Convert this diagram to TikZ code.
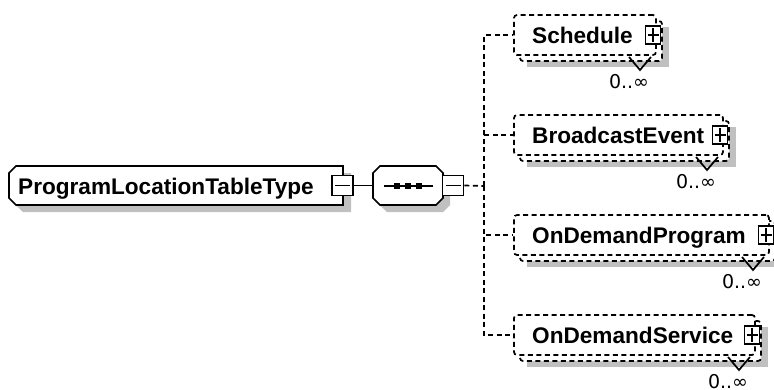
\documentclass[tikz,border=0pt]{standalone}
\usepackage{fontspec}
\setmainfont{DejaVu Sans}
\newfontfamily\namefont{Liberation Sans}
\definecolor{shadowgray}{RGB}{192,192,192}
\tikzset{
  ln/.style={line width=1.7pt},
  dsh/.style={line width=1.7pt, dash pattern=on 5pt off 3.5pt},
  nametext/.style={font=\namefont\bfseries\fontsize{22.6}{23}\selectfont, inner sep=0pt, anchor=base west},
  occtext/.style={font=\fontsize{19}{19}\selectfont, inner sep=0pt},
  minusbox/.style={draw, ln, fill=white, minimum width=21pt, minimum height=20pt, inner sep=0pt,
    path picture={\draw[ln] ([xshift=3pt]path picture bounding box.west) -- ([xshift=-3pt]path picture bounding box.east);}},
  plusbox/.style={draw, ln, fill=white, minimum width=15pt, minimum height=18pt, inner sep=0pt,
    path picture={\draw[ln] ([xshift=2pt]path picture bounding box.west) -- ([xshift=-2pt]path picture bounding box.east);
                  \draw[ln] ([yshift=-2pt]path picture bounding box.north) -- ([yshift=2pt]path picture bounding box.south);}},
  frontbox/.style={dsh, draw, fill=white, rounded corners=3pt, inner sep=0pt},
  dot/.style={fill=black, minimum size=6pt, inner sep=0pt},
}
\begin{document}
\begin{tikzpicture}[x=1pt, y=-1pt]
\useasboundingbox (0,0) rectangle (774,389);
\clip (0,0) rectangle (774,389);
\fill[white] (0,0) rectangle (774,389);

% root element
\fill[shadowgray] (23,173) -- (351,173) -- (351,212) -- (23,212) -- (16,205) -- (16,180) -- cycle;
\draw[ln, fill=white] (16,166) -- (343,166) -- (343,205) -- (16,205) -- (9,198) -- (9,173) -- cycle;
\node[nametext] (roottext) at (18,194) {ProgramLocationTableType};
\node[minusbox] (rootminus) at (342.5,185.5) {};

% sequence compositor
\fill[shadowgray] (387,173) -- (443,173) -- (450,180) -- (450,205) -- (443,212) -- (387,212) -- (380,205) -- (380,180) -- cycle;
\draw[ln, fill=white] (380,166) -- (436,166) -- (443,173) -- (443,198) -- (436,205) -- (380,205) -- (373,198) -- (373,173) -- cycle;
\node[inner sep=0pt, minimum width=70pt, minimum height=39pt] (seq) at (408,185.5) {};
\coordinate (seqa) at (384,186);
\coordinate (seqb) at (433,186);
\draw[ln] (seqa) -- (seqb);
\node[dot] (d1) at (397,186) {};
\node[dot] (d2) at (408,186) {};
\node[dot] (d3) at (419,186) {};
\node[minusbox] (seqminus) at (453,185.5) {};
\draw[ln] (rootminus.east) -- (seq.west);

\coordinate (bus) at (484,186);
\draw[dsh] (seqminus.east) -- (bus);

% children
\foreach \i/\T/\R/\nm in {1/15/656/Schedule, 2/115/723/BroadcastEvent, 3/215/769/OnDemandProgram, 4/315/755/OnDemandService} {
  \pgfmathsetmacro{\W}{\R-514}
  \pgfmathsetmacro{\CX}{(\R+514)/2}
  \pgfmathsetmacro{\CY}{\T+20}
  \pgfmathsetmacro{\VX}{\R-16}
  \fill[shadowgray] (527,\T+12) rectangle (\R+13,\T+52);
  \draw[dsh, fill=white, rounded corners=3pt] (520,\T+6) rectangle (\R+6,\T+46);
  \draw[ln] (\VX-11,\T+42) -- (\VX,\T+55) -- (\VX+11,\T+42);
  \node[frontbox, minimum width=\W pt, minimum height=40pt] (c\i) at (\CX,\CY) {};
  \node[nametext] (t\i) at (532,\T+28) {\nm};
  \node[plusbox] (p\i) at (\R-3,\CY) {};
  \node[occtext] (o\i) at (\R-27,\T+67) {0..∞};
  \draw[dsh] (bus) |- (c\i.west);
}
\end{tikzpicture}
\end{document}
